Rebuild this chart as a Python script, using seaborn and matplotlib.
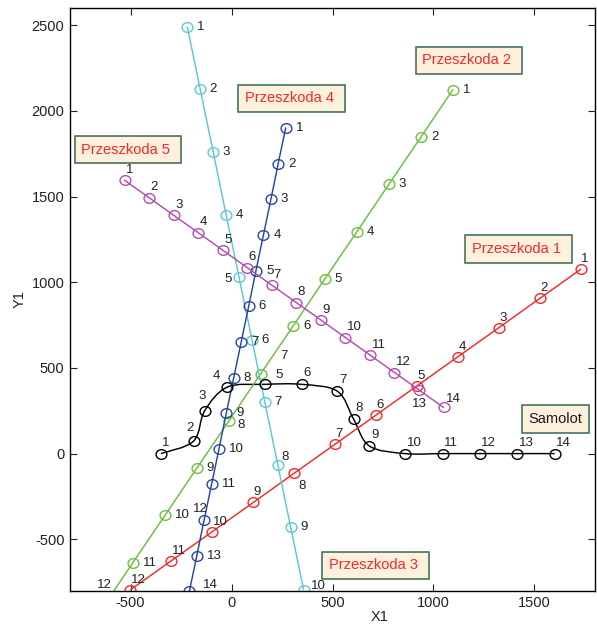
import matplotlib
matplotlib.use("Agg")
import matplotlib.pyplot as plt
import numpy as np
import pandas as pd
import seaborn as sns
from matplotlib.path import Path
from matplotlib.patches import PathPatch

# Obstacle tracks (Przeszkoda 1..5), positions at successive time steps
p1_x = [1729, 1526, 1324, 1121, 918, 716, 513, 310, 108, -95, -298, -501]
p1_y = [1075, 905, 735, 565, 395, 225, 55, -115, -285, -455, -625, -795]
p2_x = [1096, 938, 779, 621, 462, 304, 145, -13, -172, -330, -489, -647]
p2_y = [2123, 1847, 1571, 1295, 1019, 743, 467, 191, -85, -361, -637, -913]
p3_x = [-219, -155, -91, -27, 37, 101, 165, 229, 293, 357]
p3_y = [2490, 2125, 1760, 1395, 1030, 665, 300, -65, -430, -795]
p4_x = [268, 231, 195, 158, 121, 85, 48, 11, -26, -62, -99, -136, -172, -209]
p4_y = [1900, 1692, 1484, 1276, 1068, 860, 652, 444, 236, 28, -180, -388, -596, -804]
p5_x = [-530, -408, -287, -165, -44, 78, 199, 321, 443, 564, 686, 807, 929, 1050]
p5_y = [1595, 1493, 1391, 1289, 1187, 1085, 983, 881, 779, 677, 575, 473, 371, 269]

# Aircraft path (Samolot)
plane_x = [-350, -188, -133, -21, 166, 348, 524, 604, 683, 860, 1045, 1230, 1415, 1600]
plane_y = [0, 73, 250, 388, 404, 404, 364, 202, 44, 0, 0, 0, 0, 0]

x_ticks = [-500, 0, 500, 1000, 1500]
y_ticks = [-500, 0, 500, 1000, 1500, 2000, 2500]

sns.set_style("ticks")
plt.rcParams["font.family"] = ["Liberation Sans", "DejaVu Sans"]
plt.rcParams["axes.unicode_minus"] = False

fig = plt.figure(figsize=(5.97, 6.25), dpi=100)
ax = fig.add_axes([70 / 597, 1 - 590.7 / 625, 525 / 597, 582.7 / 625])

# slightly wide open-ellipse marker
circ = Path.unit_circle()
ellipse = Path(circ.vertices * np.array([1.12, 1.0]), circ.codes)

LABEL_FS = 9.5
LABEL_COLOR = "#222222"

# name, x, y, colour, default label offset (px, right/down), per-point offsets
tracks = [
    ("Przeszkoda 1", p1_x, p1_y, "#F22A2A", (0.5, -10), {8: (4, 12.7)}),
    ("Przeszkoda 2", p2_x, p2_y, "#6BBF3F", (10, 0),
     {7: (19.5, -18), 8: (8, 4.4), 12: (-4, -25.5)}),
    ("Przeszkoda 3", p3_x, p3_y, "#5EC8D6", (9.5, 0),
     {5: (-14.8, 2.3), 8: (3.3, -7.7), 10: (7.7, -4.3)}),
    ("Przeszkoda 4", p4_x, p4_y, "#2A44A6", (10, 0),
     {12: (-11, -11.3), 14: (14, -6.7)}),
    ("Przeszkoda 5", p5_x, p5_y, "#B34DB0", (1.5, -10.5),
     {13: (-7.4, 14), 14: (2.4, -8.3)}),
]


def label_points(xs, ys, default, overrides):
    for i, (xv, yv) in enumerate(zip(xs, ys), start=1):
        dx, dy = overrides.get(i, default)
        ax.annotate(str(i), (xv, yv), xytext=(dx, -dy), textcoords="offset pixels",
                    ha="left", va="center", fontsize=LABEL_FS, color=LABEL_COLOR,
                    annotation_clip=False)


for name, xs, ys, col, off, over in tracks:
    df = pd.DataFrame({"x": xs, "y": ys})
    sns.lineplot(data=df, x="x", y="y", sort=False, estimator=None, ax=ax,
                 color=col, lw=1.05, marker=ellipse, markersize=7.8,
                 markerfacecolor="none", markeredgecolor=col,
                 markeredgewidth=1.0, legend=False)
    label_points(xs, ys, off, over)

# Aircraft: smooth path through the recorded positions (Catmull-Rom as cubic Bezier)
pts = np.column_stack([plane_x, plane_y]).astype(float)
ext = np.vstack([pts[0], pts, pts[-1]])
verts = [tuple(pts[0])]
codes = [Path.MOVETO]
for i in range(len(pts) - 1):
    p0, p1, p2, p3 = ext[i], ext[i + 1], ext[i + 2], ext[i + 3]
    c1 = p1 + (p2 - p0) / 6.0
    c2 = p2 - (p3 - p1) / 6.0
    verts += [tuple(c1), tuple(c2), tuple(p2)]
    codes += [Path.CURVE4] * 3
ax.add_patch(PathPatch(Path(verts, codes), fill=False, edgecolor="black", lw=1.05))

plane_df = pd.DataFrame({"x": plane_x, "y": plane_y})
sns.lineplot(data=plane_df, x="x", y="y", sort=False, estimator=None, ax=ax,
             color="black", linestyle="none", marker=ellipse, markersize=7.8,
             markerfacecolor="none", markeredgecolor="black",
             markeredgewidth=1.0, legend=False)
label_points(plane_x, plane_y, (1.5, -11),
             {2: (-7.5, -13), 3: (-6.5, -15), 4: (-14.5, -11), 5: (10, -9)})

# Name boxes
box_style = dict(boxstyle="square,pad=0.45", fc="#FDF0DC", ec="#36694F", lw=1.1)
names = [
    ("Przeszkoda 1 ", 1191, 1194, "#F22A2A"),
    ("Przeszkoda 2 ", 944, 2295, "#F22A2A"),
    ("Przeszkoda 3 ", 482, -651, "#F22A2A"),
    ("Przeszkoda 4 ", 66, 2072, "#F22A2A"),
    ("Przeszkoda 5 ", -744, 1773, "#F22A2A"),
    ("Samolot", 1469, 202, "#1A1A1A"),
]
for text, tx, ty, tc in names:
    ax.text(tx, ty, text, color=tc, fontsize=10.5, ha="left", va="center",
            bbox=box_style, zorder=5)

ax.set_xlim(-800, 1800)
ax.set_ylim(-800, 2600)
ax.set_xticks(x_ticks)
ax.set_yticks(y_ticks)
ax.set_xticklabels([str(v) for v in x_ticks])
ax.set_yticklabels([str(v) for v in y_ticks])
ax.tick_params(direction="in", length=5, width=0.8, top=True, right=True,
               labelsize=10.5, pad=4, colors="#222222")
for s in ax.spines.values():
    s.set_visible(True)
    s.set_linewidth(1.0)
    s.set_color("black")

ax.set_xlabel("X1", fontsize=10.5, va="center", color="#222222")
ax.set_ylabel("Y1", fontsize=10.5, va="center", color="#222222")
ax.xaxis.set_label_coords(0.589, -0.045)
ax.yaxis.set_label_coords(-0.095, 0.5)

fig.savefig("out.png", dpi=100)
